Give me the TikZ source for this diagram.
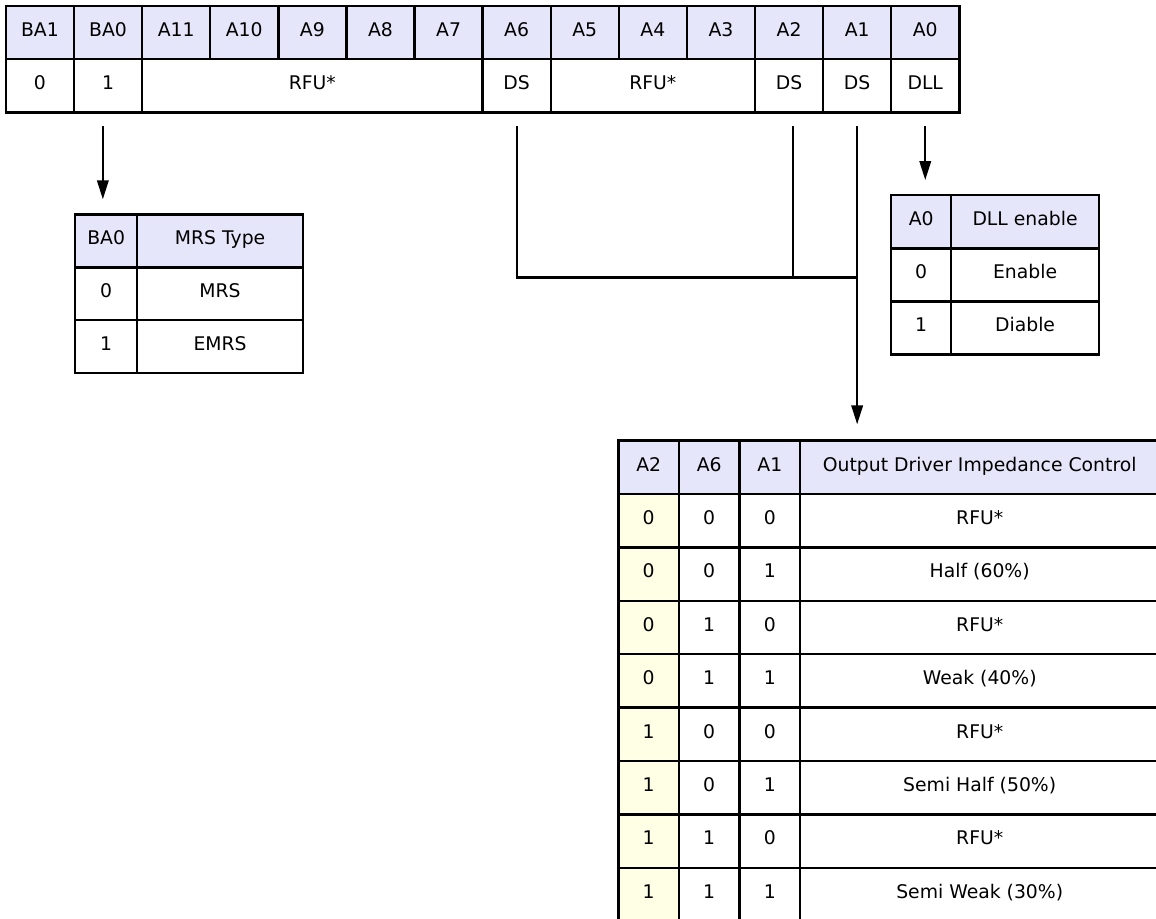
\documentclass[tikz,border=0pt]{standalone}
\usepackage{fontspec}
\setmainfont{DejaVu Sans}
\usetikzlibrary{arrows.meta,calc}
\definecolor{hdr}{RGB}{230,230,250}
\definecolor{ylw}{RGB}{255,255,230}
\tikzset{
  cell/.style={draw=black, line width=2.4pt, anchor=north west, inner sep=0pt,
    text height=13.6pt, text depth=6pt, font=\fontsize{18.8}{22}\selectfont},
  conn/.style={draw=black, line width=2.1pt},
  arr/.style={conn, -{Triangle[length=19pt,width=11.5pt]}},
}
\newcommand\mycell[7]{\node[cell,fill=#6,minimum width=#4pt,minimum height=#5pt] (#1) at (#2,#3) {#7};}
\begin{document}
\begin{tikzpicture}[x=1pt,y=-1pt]
\clip (0,0) rectangle (1156,918);
\fill[white] (0,0) rectangle (1156,918);
% top register table
\foreach \n [count=\i from 0] in {BA1,BA0,A11,A10,A9,A8,A7,A6,A5,A4,A3,A2,A1,A0} {
  \pgfmathsetmacro\xx{4.7+68.1*\i}
  \mycell{t\n}{\xx}{4.7}{68.1}{53.2}{hdr}{\n}
}
\mycell{vBA1}{4.7}{57.9}{68.1}{53.2}{white}{0}
\mycell{vBA0}{72.8}{57.9}{68.1}{53.2}{white}{1}
\mycell{vRFUa}{140.9}{57.9}{340.5}{53.2}{white}{RFU*}
\mycell{vA6}{481.4}{57.9}{68.1}{53.2}{white}{DS}
\mycell{vRFUb}{549.5}{57.9}{204.3}{53.2}{white}{RFU*}
\mycell{vA2}{753.8}{57.9}{68.1}{53.2}{white}{DS}
\mycell{vA1}{821.9}{57.9}{68.1}{53.2}{white}{DS}
\mycell{vA0}{890}{57.9}{68.1}{53.2}{white}{DLL}
% MRS type table
\mycell{mH1}{74}{213.3}{62}{52.8}{hdr}{BA0}
\mycell{mH2}{136}{213.3}{165.7}{52.8}{hdr}{MRS Type}
\mycell{m01}{74}{266.1}{62}{52.8}{white}{0}
\mycell{m02}{136}{266.1}{165.7}{52.8}{white}{MRS}
\mycell{m11}{74}{318.9}{62}{52.8}{white}{1}
\mycell{m12}{136}{318.9}{165.7}{52.8}{white}{EMRS}
% DLL table
\mycell{dH1}{890}{194}{60}{53.1}{hdr}{A0}
\mycell{dH2}{950}{194}{147.7}{53.1}{hdr}{DLL enable}
\mycell{d01}{890}{247.1}{60}{53.1}{white}{0}
\mycell{d02}{950}{247.1}{147.7}{53.1}{white}{Enable}
\mycell{d11}{890}{300.2}{60}{53.1}{white}{1}
\mycell{d12}{950}{300.2}{147.7}{53.1}{white}{Diable}
% output driver table
\mycell{oA2}{617.3}{439.3}{60.4}{53.4}{hdr}{A2}
\mycell{oA6}{677.7}{439.3}{60.6}{53.4}{hdr}{A6}
\mycell{oA1}{738.3}{439.3}{60.7}{53.4}{hdr}{A1}
\mycell{oT}{799}{439.3}{359}{53.4}{hdr}{Output Driver Impedance Control}
\foreach \a/\b/\c/\t [count=\i] in {0/0/0/RFU*,0/0/1/Half (60\%),0/1/0/RFU*,0/1/1/Weak (40\%),1/0/0/RFU*,1/0/1/Semi Half (50\%),1/1/0/RFU*,1/1/1/Semi Weak (30\%)} {
  \pgfmathsetmacro\yy{439.3+53.4*\i}
  \mycell{r\i a}{617.3}{\yy}{60.4}{53.4}{ylw}{\a}
  \mycell{r\i b}{677.7}{\yy}{60.6}{53.4}{white}{\b}
  \mycell{r\i c}{738.3}{\yy}{60.7}{53.4}{white}{\c}
  \mycell{r\i t}{799}{\yy}{359}{53.4}{white}{\t}
}
% connectors
\draw[arr] ($(vBA0.south)+(-5.2,12.6)$) -- ($(vBA0.south |- mH1.north)+(-5.2,-14)$);
\draw[arr] ($(vA0.south)+(0,12.6)$) -- ($(vA0.south |- dH1.north)+(0,-14)$);
\coordinate (jn) at ($(vA1.south)+(0,164)$);
\draw[conn] ($(vA6.south)+(0,12.6)$) |- (jn);
\draw[conn] ($(vA2.south)+(4.1,12.6)$) -- ($(vA2.south)+(4.1,164)$);
\draw[arr] ($(vA1.south)+(0,12.6)$) -- ($(vA1.south |- oA2.north)+(0,-15)$);
\end{tikzpicture}
\end{document}
